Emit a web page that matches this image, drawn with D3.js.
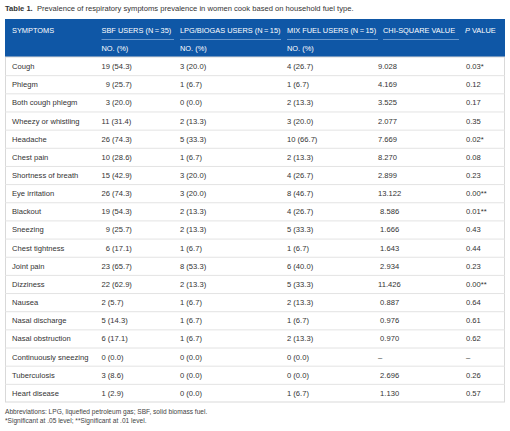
<!DOCTYPE html>
<html><head><meta charset="utf-8">
<script src="https://cdn.jsdelivr.net/npm/d3@7/dist/d3.min.js"></script>
<style>
html,body{margin:0;padding:0;background:#fff;}
svg{display:block;font-family:"Liberation Sans",Arial,Helvetica,sans-serif;}
text{white-space:pre;}
</style></head>
<body>
<svg id="chart" width="510" height="431"></svg>
<script>
const symptoms = ["Cough","Phlegm","Both cough phlegm","Wheezy or whistling","Headache","Chest pain","Shortness of breath","Eye irritation","Blackout","Sneezing","Chest tightness","Joint pain","Dizziness","Nausea","Nasal discharge","Nasal obstruction","Continuously sneezing","Tuberculosis","Heart disease"];
const sbfUsers = ["19 (54.3)","\u00a0\u00a09 (25.7)","\u00a0\u00a03 (20.0)","11 (31.4)","26 (74.3)","10 (28.6)","15 (42.9)","26 (74.3)","19 (54.3)","\u00a0\u00a09 (25.7)","\u00a0\u00a06 (17.1)","23 (65.7)","22 (62.9)","2 (5.7)","5 (14.3)","6 (17.1)","0 (0.0)","3 (8.6)","1 (2.9)"];
const lpgUsers = ["3 (20.0)","1 (6.7)","0 (0.0)","2 (13.3)","5 (33.3)","1 (6.7)","3 (20.0)","3 (20.0)","2 (13.3)","2 (13.3)","1 (6.7)","8 (53.3)","2 (13.3)","1 (6.7)","1 (6.7)","1 (6.7)","0 (0.0)","0 (0.0)","0 (0.0)"];
const mixUsers = ["4 (26.7)","1 (6.7)","2 (13.3)","3 (20.0)","10 (66.7)","2 (13.3)","4 (26.7)","8 (46.7)","4 (26.7)","5 (33.3)","1 (6.7)","6 (40.0)","5 (33.3)","2 (13.3)","1 (6.7)","2 (13.3)","0 (0.0)","0 (0.0)","1 (6.7)"];
const chiSquare = ["9.028","4.169","3.525","2.077","7.669","8.270","2.899","13.122","\u00a08.586","\u00a01.666","\u00a01.643","\u00a02.934","11.426","\u00a00.887","\u00a00.976","\u00a00.970","–","\u00a02.696","\u00a01.130"];
const pValues = ["0.03*","0.12","0.17","0.35","0.02*","0.08","0.23","0.00**","0.01**","0.43","0.44","0.23","0.00**","0.64","0.61","0.62","–","0.26","0.57"];
const headers = ["SYMPTOMS","SBF USERS (N\u2009=\u200935)","LPG/BIOGAS USERS (N\u2009=\u200915)","MIX FUEL USERS (N\u2009=\u200915)","CHI-SQUARE VALUE","P VALUE"];
const subHeaders = ["","NO. (%)","NO. (%)","NO. (%)","",""];

const svg = d3.select("#chart");
const colX = [12, 101.5, 180, 287, 378, 466];
const underlineEnds = [null,[101.5,174],[180,281],[287,378],[383,459],null];
const blue = "#0f57a6";
const left = 5, right = 505;

// title
const title = svg.append("text").attr("x",5).attr("y",11).attr("font-size",7.6).attr("fill","#333");
title.append("tspan").attr("font-weight","bold").text("Table 1.");
title.append("tspan").text("  Prevalence of respiratory symptoms prevalence in women cook based on household fuel type.");

// header
svg.append("rect").attr("x",left).attr("y",19).attr("width",right-left).attr("height",38).attr("fill",blue);
headers.forEach((h,i)=>{
  const t = svg.append("text").attr("x", i===5 ? colX[i]-1 : (i===4?383:colX[i])).attr("y",33).attr("font-size",7.4).attr("fill","#fff");
  if(i===5){ t.append("tspan").attr("font-style","italic").text("P"); t.append("tspan").text(" VALUE"); }
  else t.text(h);
  if(underlineEnds[i]) svg.append("line").attr("x1",underlineEnds[i][0]).attr("x2",underlineEnds[i][1]).attr("y1",39.5).attr("y2",39.5).attr("stroke","#7fa8d8").attr("stroke-width",0.8);
  if(subHeaders[i]) svg.append("text").attr("x",colX[i]).attr("y",51).attr("font-size",7.4).attr("fill","#fff").text(subHeaders[i]);
});

// body
const y = d3.scaleBand().domain(symptoms).range([57, 402]);
svg.append("rect").attr("x",left+0.5).attr("y",57).attr("width",right-left-1).attr("height",345).attr("fill","none").attr("stroke","#d9d9d9").attr("stroke-width",1);
const columns = [symptoms, sbfUsers, lpgUsers, mixUsers, chiSquare, pValues];
const rows = svg.append("g").selectAll("g").data(symptoms).join("g").attr("transform", d=>`translate(0,${y(d)})`);
rows.filter((d,i)=>i>0).append("line").attr("x1",left).attr("x2",right).attr("y1",0.5).attr("y2",0.5).attr("stroke","#e3e3e3").attr("stroke-width",1);
columns.forEach((col,ci)=>{
  rows.append("text").attr("x",colX[ci]).attr("y",y.bandwidth()/2+3).attr("font-size",7.6).attr("fill","#333")
    .text((d,i)=>col[i]);
});

// footnotes
svg.append("text").attr("x",5).attr("y",414).attr("font-size",6.6).attr("fill","#444").text("Abbreviations: LPG, liquefied petroleum gas; SBF, solid biomass fuel.");
svg.append("text").attr("x",5).attr("y",423).attr("font-size",6.6).attr("fill","#444").text("*Significant at .05 level; **Significant at .01 level.");
</script>
</body></html>
